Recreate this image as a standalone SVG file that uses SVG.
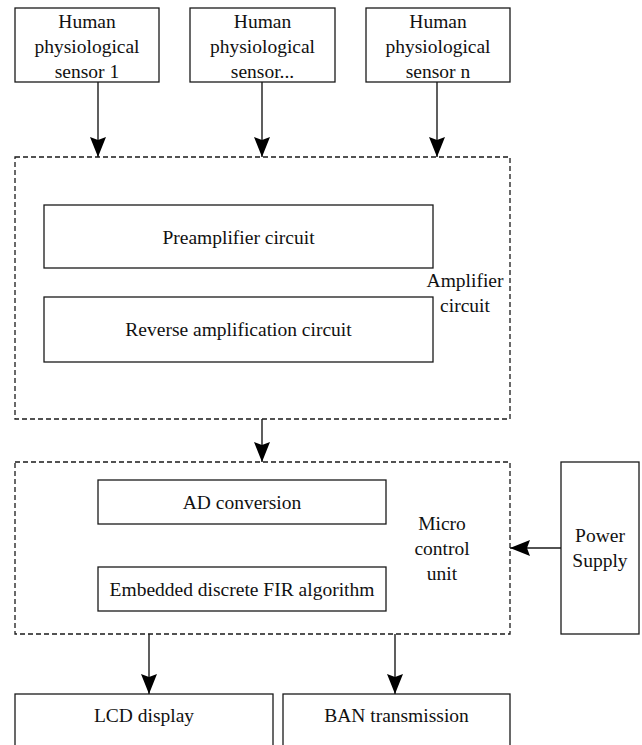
<svg xmlns="http://www.w3.org/2000/svg" width="642" height="745" viewBox="0 0 642 745">
  <style>
    .box { fill: #ffffff; stroke: #1a1a1a; stroke-width: 1.3; }
    .dash { fill: none; stroke: #1a1a1a; stroke-width: 1.3; stroke-dasharray: 5 3; }
    text { font-family: 'Liberation Serif', 'Times New Roman', Times, serif; font-size: 19.5px; fill: #111111; text-anchor: middle; }
    .conn { stroke: #1a1a1a; stroke-width: 1.4; fill: none; marker-end: url(#arrow); }
  </style>
  <defs>
    <marker id="arrow" viewBox="0 0 20 16" refX="20" refY="8" markerWidth="20" markerHeight="16" markerUnits="userSpaceOnUse" orient="auto">
      <path d="M0,0 L20,8 L0,16 L3,8 Z" fill="#000000"/>
    </marker>
  </defs>

  <rect width="642" height="745" fill="#ffffff"/>

  <g id="sensor1">
    <rect class="box" x="15" y="8" width="144" height="74"/>
    <text x="87" y="28">Human</text>
    <text x="87" y="53">physiological</text>
    <text x="87" y="78">sensor 1</text>
  </g>
  <g id="sensor2">
    <rect class="box" x="190" y="8" width="145" height="74"/>
    <text x="262.5" y="28">Human</text>
    <text x="262.5" y="53">physiological</text>
    <text x="262.5" y="78">sensor...</text>
  </g>
  <g id="sensorn">
    <rect class="box" x="366" y="8" width="144" height="74"/>
    <text x="438" y="28">Human</text>
    <text x="438" y="53">physiological</text>
    <text x="438" y="78">sensor n</text>
  </g>

  <g id="amplifier">
    <rect class="dash" x="15" y="157" width="495" height="262"/>
    <text x="465" y="287">Amplifier</text>
    <text x="465" y="312">circuit</text>
  </g>
  <g id="preamplifier">
    <rect class="box" x="44" y="205" width="389" height="63"/>
    <text x="238.5" y="243.5">Preamplifier circuit</text>
  </g>
  <g id="reverse">
    <rect class="box" x="44" y="297" width="389" height="65"/>
    <text x="238.5" y="336">Reverse amplification circuit</text>
  </g>

  <g id="mcu">
    <rect class="dash" x="15" y="462" width="495" height="172"/>
    <text x="442" y="530">Micro</text>
    <text x="442" y="555">control</text>
    <text x="442" y="580">unit</text>
  </g>
  <g id="ad">
    <rect class="box" x="98" y="480" width="288" height="44"/>
    <text x="242" y="509">AD conversion</text>
  </g>
  <g id="fir">
    <rect class="box" x="98" y="567" width="288" height="44"/>
    <text x="242" y="596">Embedded discrete FIR algorithm</text>
  </g>

  <g id="power">
    <rect class="box" x="561" y="462" width="78" height="172"/>
    <text x="600" y="542">Power</text>
    <text x="600" y="567">Supply</text>
  </g>

  <g id="lcd">
    <rect class="box" x="15" y="694" width="258" height="60"/>
    <text x="144" y="722">LCD display</text>
  </g>
  <g id="ban">
    <rect class="box" x="283" y="694" width="227" height="60"/>
    <text x="396.5" y="722">BAN transmission</text>
  </g>

  <g id="connectors">
    <line class="conn" x1="98" y1="82" x2="98" y2="157"/>
    <line class="conn" x1="262" y1="82" x2="262" y2="157"/>
    <line class="conn" x1="437" y1="82" x2="437" y2="157"/>
    <line class="conn" x1="262" y1="419" x2="262" y2="462"/>
    <line class="conn" x1="149" y1="634" x2="149" y2="694"/>
    <line class="conn" x1="395" y1="634" x2="395" y2="694"/>
    <line class="conn" x1="561" y1="548" x2="510" y2="548"/>
  </g>
</svg>
